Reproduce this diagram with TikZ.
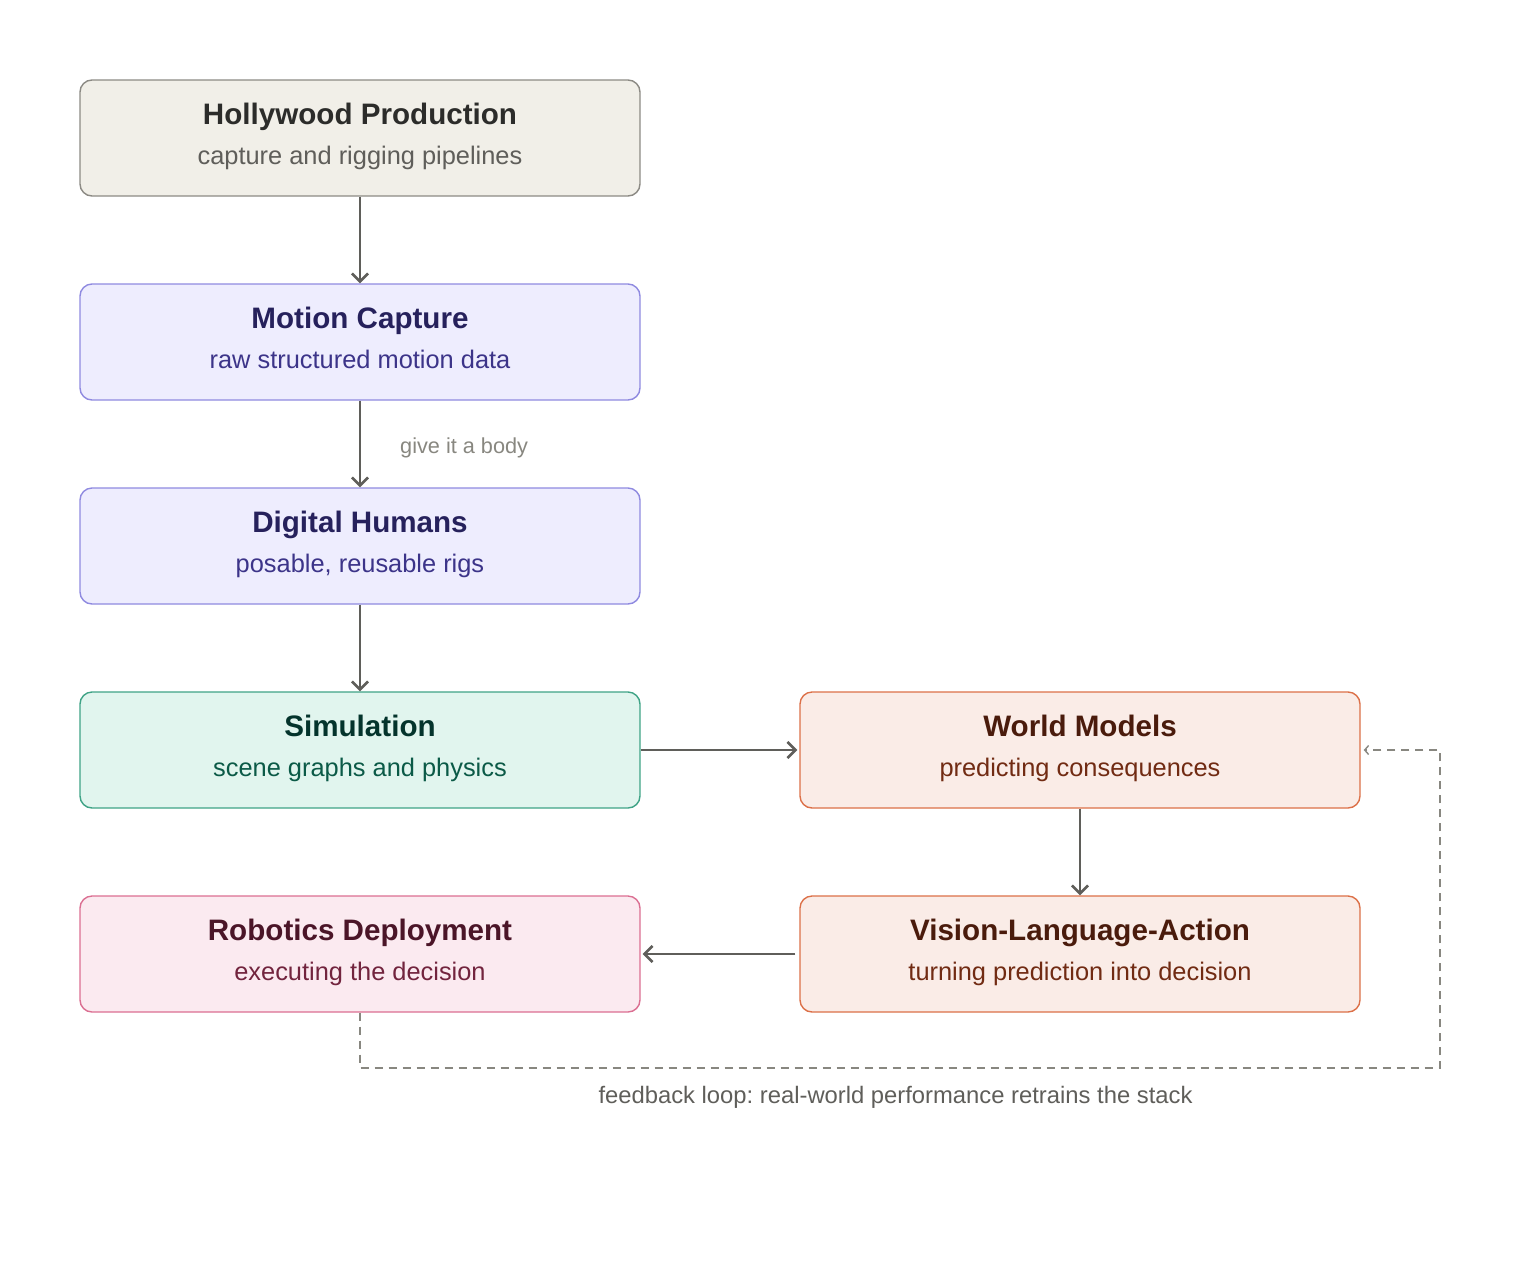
\documentclass[tikz,border=0pt]{standalone}
\usepackage{fontspec}
\setmainfont{Liberation Sans}
\frenchspacing
\usetikzlibrary{arrows.meta}
\definecolor{hwfill}{HTML}{F1EFE8}
\definecolor{hwline}{HTML}{8C8A84}
\definecolor{hwtitle}{HTML}{2C2C2A}
\definecolor{hwsub}{HTML}{5F5E5A}
\definecolor{pufill}{HTML}{EEEDFE}
\definecolor{puline}{HTML}{8F8AE0}
\definecolor{putitle}{HTML}{26215C}
\definecolor{pusub}{HTML}{3C3489}
\definecolor{tefill}{HTML}{E1F5EE}
\definecolor{teline}{HTML}{3FA386}
\definecolor{tetitle}{HTML}{04342C}
\definecolor{tesub}{HTML}{0B5A47}
\definecolor{orfill}{HTML}{FAECE7}
\definecolor{orline}{HTML}{DC7048}
\definecolor{ortitle}{HTML}{4A1B0C}
\definecolor{orsub}{HTML}{712B13}
\definecolor{pkfill}{HTML}{FBEAF0}
\definecolor{pkline}{HTML}{DB6F92}
\definecolor{pktitle}{HTML}{4B1528}
\definecolor{pksub}{HTML}{72243E}
\definecolor{arrowc}{HTML}{5F5E5A}
\definecolor{dashc}{HTML}{888780}
\definecolor{lblc}{HTML}{888780}
\begin{document}
\begin{tikzpicture}[x=1pt,y=-1pt,
  box/.style={draw, rectangle, rounded corners=12pt, line width=1.4pt, minimum width=560pt, minimum height=116pt, inner sep=0pt},
  ttl/.style={anchor=base, inner sep=0pt, font=\fontsize{29.6}{34}\selectfont\bfseries},
  sub/.style={anchor=base, inner sep=0pt, font=\fontsize{25.4}{30}\selectfont},
  flow/.style={draw=arrowc, line width=2.6pt, -{Straight Barb[length=8pt,width=16pt]}},
  fb/.style={draw=dashc, line width=1.8pt, dash pattern=on 8pt off 6pt, -{Straight Barb[length=4pt,width=9pt,line width=1.4pt]}}
]
\useasboundingbox (0,0) rectangle (1520,1280);

% boxes
\node[box, draw=hwline, fill=hwfill] (hw) at (360,138) {};
\node[box, draw=puline, fill=pufill] (mc) at (360,342) {};
\node[box, draw=puline, fill=pufill] (dh) at (360,546) {};
\node[box, draw=teline, fill=tefill] (sim) at (360,750) {};
\node[box, draw=orline, fill=orfill] (wm) at (1080,750) {};
\node[box, draw=orline, fill=orfill] (vla) at (1080,954) {};
\node[box, draw=pkline, fill=pkfill] (rd) at (360,954) {};

% texts
\node[ttl, text=hwtitle] (hwt) at (360,124) {Hollywood Production};
\node[sub, text=hwsub] (hws) at (360,164) {capture and rigging pipelines};
\node[ttl, text=putitle] (mct) at (360,328) {Motion Capture};
\node[sub, text=pusub] (mcs) at (360,368) {raw structured motion data};
\node[ttl, text=putitle] (dht) at (360,532) {Digital Humans};
\node[sub, text=pusub] (dhs) at (360,572) {posable, reusable rigs};
\node[ttl, text=tetitle] (simt) at (360,736) {Simulation};
\node[sub, text=tesub] (sims) at (360,776) {scene graphs and physics};
\node[ttl, text=ortitle] (wmt) at (1080,736) {World Models};
\node[sub, text=orsub] (wms) at (1080,776) {predicting consequences};
\node[ttl, text=ortitle] (vlat) at (1080,940) {Vision-Language-Action};
\node[sub, text=orsub] (vlas) at (1080,980) {turning prediction into decision};
\node[ttl, text=pktitle] (rdt) at (360,940) {Robotics Deployment};
\node[sub, text=pksub] (rds) at (360,980) {executing the decision};

% arrows
\draw[flow] (hw.south) -- (mc.north);
\draw[flow] (mc.south) -- (dh.north);
\draw[flow] (dh.south) -- (sim.north);
\draw[flow, shorten >=2pt] (sim.east) -- (wm.west);
\draw[flow] (wm.south) -- (vla.north);
\draw[flow, shorten <=4pt, shorten >=2pt] (vla.west) -- (rd.east);

\node[anchor=base west, inner sep=0pt, text=lblc, font=\fontsize{21.7}{26}\selectfont] (lbl1) at (400,453) {give it a body};

% feedback loop
\coordinate (fb1) at (360,1068);
\coordinate (fb2) at (1440,1068);
\coordinate (fb3) at (1440,750);
\draw[fb, shorten >=3pt] (rd.south) -- (fb1) -- (fb2) -- (fb3) -- (wm.east);
\node[anchor=base, inner sep=0pt, text=hwsub, font=\fontsize{23.8}{28}\selectfont] (lbl2) at (895.5,1103) {feedback loop: real-world performance retrains the stack};
\end{tikzpicture}
\end{document}
